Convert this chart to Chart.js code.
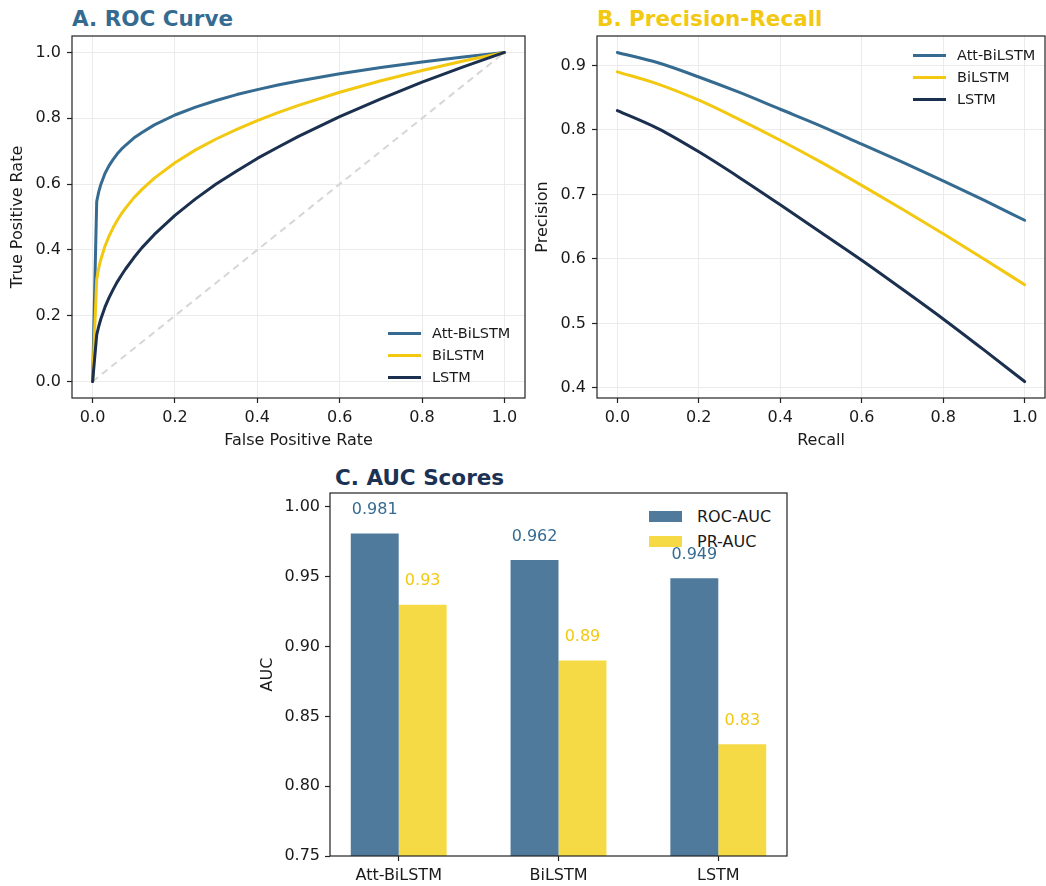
<!DOCTYPE html>
<html>
<head>
<meta charset="utf-8">
<script src="https://cdn.jsdelivr.net/npm/chart.js@4.4.0/dist/chart.umd.min.js"></script>
<style>
  body { margin: 0; background: #fff; font-family: "DejaVu Sans", sans-serif; }
  #page { position: relative; width: 1046px; height: 886px; overflow: hidden; }
  canvas { position: absolute; z-index: 1; }
  .title { position: absolute; font-weight: bold; font-size: 21.5px; line-height: 24px; white-space: nowrap; }
  .leg { position: absolute; color: #1a1a1a; white-space: nowrap; }
  .leg .row { display: flex; align-items: center; }
</style>
</head>
<body>
<div id="page">
  <div class="title" style="left:72px; top:7px; color:#366b91;">A. ROC Curve</div>
  <div class="title" style="left:597px; top:7px; color:#f2c811;">B. Precision-Recall</div>
  <div class="title" style="left:335px; top:466px; color:#1c3254;">C. AUC Scores</div>

  <div class="leg" id="legA" style="left:388px; top:322px; font-size:14.5px; z-index:2;"></div>
  <div class="leg" id="legB" style="left:913px; top:44px; font-size:14.5px; z-index:2;"></div>
  <div class="leg" id="legC" style="left:649px; top:503.5px; font-size:16px; z-index:0;"></div>

  <canvas id="rocChart" width="530" height="425" style="left:0; top:30px;"></canvas>
  <canvas id="prChart" width="521" height="425" style="left:525px; top:30px;"></canvas>
  <canvas id="aucChart" width="550" height="421" style="left:250px; top:465px;"></canvas>
</div>
<script>
// --- DATA ---
const modelNames = ['Att-BiLSTM', 'BiLSTM', 'LSTM'];
const modelColors = ['#366b91', '#f2c811', '#1b2f4e'];

// ROC curves (false positive rate -> true positive rate)
const rocFpr = [0, 0.01, 0.015, 0.02, 0.03, 0.04, 0.05, 0.06, 0.07, 0.08, 0.1, 0.12, 0.15, 0.2, 0.25, 0.3, 0.35, 0.4, 0.45, 0.5, 0.6, 0.7, 0.8, 0.9, 1.0];
const rocAtt = [0, 0.547, 0.577, 0.599, 0.632, 0.656, 0.675, 0.692, 0.706, 0.718, 0.740, 0.757, 0.780, 0.810, 0.834, 0.854, 0.872, 0.887, 0.901, 0.913, 0.935, 0.954, 0.971, 0.986, 1.0];
const rocBi = [0, 0.311, 0.345, 0.371, 0.411, 0.442, 0.468, 0.490, 0.510, 0.527, 0.558, 0.584, 0.618, 0.665, 0.704, 0.737, 0.766, 0.793, 0.817, 0.839, 0.879, 0.914, 0.945, 0.974, 1.0];
const rocLstm = [0, 0.142, 0.168, 0.190, 0.226, 0.255, 0.280, 0.303, 0.323, 0.342, 0.376, 0.407, 0.447, 0.505, 0.555, 0.600, 0.640, 0.678, 0.712, 0.745, 0.805, 0.859, 0.910, 0.956, 1.0];
const chanceLine = [0, 1];

// Precision-recall curves
const prRecall = [0, 0.1, 0.2, 0.3, 0.4, 0.5, 0.6, 0.7, 0.8, 0.9, 1.0];
const prAtt = [0.920, 0.904, 0.882, 0.858, 0.832, 0.806, 0.778, 0.750, 0.721, 0.691, 0.660];
const prBi = [0.890, 0.871, 0.846, 0.816, 0.784, 0.750, 0.714, 0.677, 0.639, 0.600, 0.560];
const prLstm = [0.830, 0.802, 0.766, 0.726, 0.684, 0.641, 0.598, 0.553, 0.507, 0.459, 0.410];

// AUC scores
const aucSeries = ['ROC-AUC', 'PR-AUC'];
const rocAuc = [0.981, 0.962, 0.949];
const prAuc = [0.93, 0.89, 0.83];

// tick labels
const ticksUnit = [0, 0.2, 0.4, 0.6, 0.8, 1.0];
const ticksPrecision = [0.4, 0.5, 0.6, 0.7, 0.8, 0.9];
const ticksAuc = [0.75, 0.80, 0.85, 0.90, 0.95, 1.00];
const ticksModels = [0, 1, 2];

// --- DEFAULTS ---
Chart.defaults.font.family = "'DejaVu Sans', sans-serif";
Chart.defaults.color = '#1a1a1a';
Chart.defaults.animation = false;

const frame = {
  id: 'frame',
  afterDraw(chart) {
    const { ctx, chartArea: a } = chart;
    ctx.save();
    ctx.strokeStyle = '#222';
    ctx.lineWidth = 1.2;
    ctx.strokeRect(a.left, a.top, a.right - a.left, a.bottom - a.top);
    ctx.restore();
  }
};

function axis(min, max, tickVals, fmt, title, fitSize, vertical, grid, pad) {
  return {
    type: 'linear',
    min: min,
    max: max,
    offset: false,
    afterBuildTicks: s => { s.ticks = tickVals.map(v => ({ value: v })); },
    afterFit: s => {
      if (vertical) s.width = fitSize; else s.height = fitSize;
      // keep the plot box where it is; labels have room already
      s.paddingTop = 0; s.paddingBottom = 0; s.paddingLeft = 0; s.paddingRight = 0;
    },
    ticks: { callback: fmt, font: { size: 16 }, padding: pad, autoSkip: false, maxRotation: 0, color: '#1a1a1a' },
    grid: {
      offset: false, color: '#ebebeb', lineWidth: 1, drawOnChartArea: grid,
      drawTicks: true, tickLength: 5, tickColor: '#222', tickWidth: 1.2
    },
    border: { display: false },
    title: { display: title !== '', text: title, font: { size: 16 }, color: '#1a1a1a', padding: { top: 8, bottom: 5 } }
  };
}

function pts(xs, ys) {
  return xs.map((x, i) => ({ x: x, y: ys[i] }));
}

function lineSet(label, xs, ys, color, order, smooth) {
  return {
    label: label, data: pts(xs, ys), borderColor: color, backgroundColor: color,
    borderWidth: 3, pointRadius: 0, order: order,
    cubicInterpolationMode: smooth ? 'monotone' : 'default', tension: 0,
    borderJoinStyle: 'round', borderCapStyle: 'round'
  };
}

// --- LEGENDS (HTML) ---
function lineLegend(id, textGap) {
  const el = document.getElementById(id);
  modelNames.forEach((name, i) => {
    const row = document.createElement('div');
    row.className = 'row';
    row.style.height = '22px';
    row.innerHTML = `<span style="display:inline-block;width:33px;height:3px;background:${modelColors[i]};margin-right:${textGap}px"></span><span>${name}</span>`;
    el.appendChild(row);
  });
}
lineLegend('legA', 11);
lineLegend('legB', 11);

const barColors = ['#4f7a9c', '#f5da45'];
const barLabelColors = ['#366b91', '#f2c811'];
(function () {
  const el = document.getElementById('legC');
  aucSeries.forEach((name, i) => {
    const row = document.createElement('div');
    row.className = 'row';
    row.style.height = '25px';
    row.innerHTML = `<span style="display:inline-block;width:33px;height:11px;background:${barColors[i]};margin-right:15px"></span><span>${name}</span>`;
    el.appendChild(row);
  });
})();

// --- A. ROC ---
new Chart(document.getElementById('rocChart'), {
  type: 'line',
  data: {
    datasets: [
      lineSet(modelNames[0], rocFpr, rocAtt, modelColors[0], 3, false),
      lineSet(modelNames[1], rocFpr, rocBi, modelColors[1], 2, false),
      lineSet(modelNames[2], rocFpr, rocLstm, modelColors[2], 1, false),
      {
        label: 'Chance', data: pts(chanceLine, chanceLine), borderColor: '#d6d6d6',
        borderDash: [7, 5], borderWidth: 2, pointRadius: 0, order: 4
      }
    ]
  },
  options: {
    responsive: false,
    layout: { padding: { top: 6, right: 5, bottom: 0, left: 0 } },
    plugins: { legend: { display: false }, tooltip: { enabled: false } },
    scales: {
      x: axis(-0.05, 1.05, ticksUnit, v => v.toFixed(1), 'False Positive Rate', 57, false, true, 5),
      y: axis(-0.05, 1.05, ticksUnit, v => v.toFixed(1), 'True Positive Rate', 72, true, true, 6)
    }
  },
  plugins: [frame]
});

// --- B. PRECISION-RECALL ---
new Chart(document.getElementById('prChart'), {
  type: 'line',
  data: {
    datasets: [
      lineSet(modelNames[0], prRecall, prAtt, modelColors[0], 3, true),
      lineSet(modelNames[1], prRecall, prBi, modelColors[1], 2, true),
      lineSet(modelNames[2], prRecall, prLstm, modelColors[2], 1, true)
    ]
  },
  options: {
    responsive: false,
    layout: { padding: { top: 6, right: 1, bottom: 0, left: 0 } },
    plugins: { legend: { display: false }, tooltip: { enabled: false } },
    scales: {
      x: axis(-0.05, 1.05, ticksUnit, v => v.toFixed(1), 'Recall', 57, false, true, 5),
      y: axis(0.3845, 0.9455, ticksPrecision, v => v.toFixed(1), 'Precision', 72, true, true, 6)
    }
  },
  plugins: [frame]
});

// --- C. AUC BARS ---
const barLabels = {
  id: 'barLabels',
  afterDatasetsDraw(chart) {
    const { ctx } = chart;
    const yScale = chart.scales.y;
    ctx.save();
    ctx.font = "16px 'DejaVu Sans', sans-serif";
    ctx.textAlign = 'center';
    ctx.textBaseline = 'bottom';
    chart.data.datasets.forEach((ds, di) => {
      ctx.fillStyle = barLabelColors[di];
      chart.getDatasetMeta(di).data.forEach((bar, i) => {
        const v = ds.data[i].y;
        ctx.fillText(String(v), bar.x, yScale.getPixelForValue(v + 0.011));
      });
    });
    ctx.restore();
  }
};

new Chart(document.getElementById('aucChart'), {
  type: 'bar',
  data: {
    datasets: [
      { label: aucSeries[0], data: pts(ticksModels, rocAuc), backgroundColor: barColors[0], borderWidth: 0 },
      { label: aucSeries[1], data: pts(ticksModels, prAuc), backgroundColor: barColors[1], borderWidth: 0 }
    ]
  },
  options: {
    responsive: false,
    categoryPercentage: 0.6,
    barPercentage: 1.0,
    layout: { padding: { top: 28, right: 13, bottom: 0, left: 0 } },
    plugins: { legend: { display: false }, tooltip: { enabled: false } },
    scales: {
      x: axis(-0.43, 2.43, ticksModels, v => modelNames[v], '', 30, false, false, 5),
      y: axis(0.75, 1.01, ticksAuc, v => v.toFixed(2), 'AUC', 80, true, false, 5)
    }
  },
  plugins: [frame, barLabels]
});
</script>
</body>
</html>
